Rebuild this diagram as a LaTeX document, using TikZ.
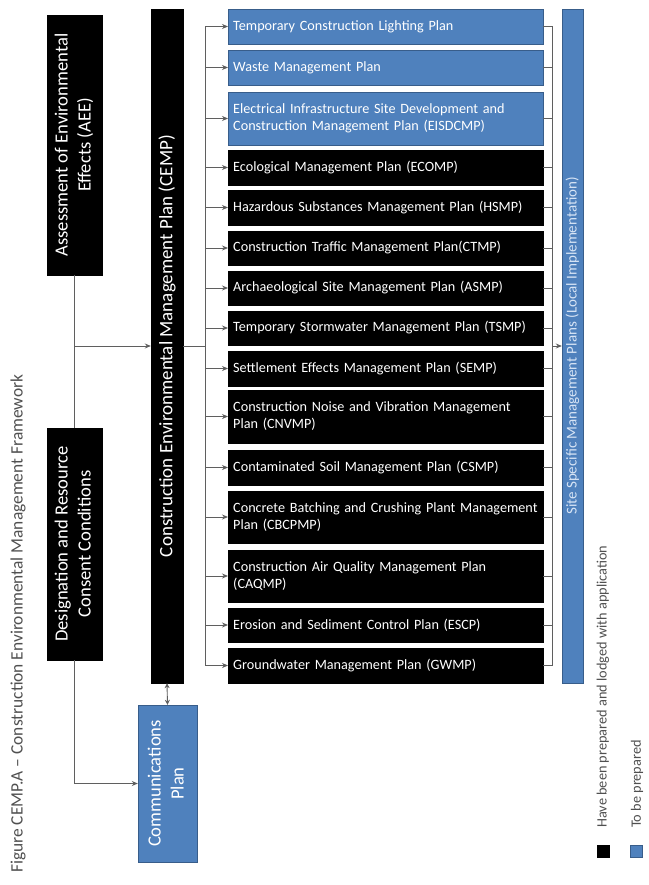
\documentclass[tikz,border=0pt]{standalone}
\usepackage{fontspec}
\setmainfont{Carlito}
\usepackage{graphicx}
\usetikzlibrary{arrows.meta}
\definecolor{planblue}{RGB}{79,129,189}
\definecolor{blueedge}{RGB}{56,93,138}
\definecolor{linegray}{RGB}{95,95,95}
\definecolor{titlegray}{RGB}{80,80,80}
\definecolor{sitetext}{RGB}{215,228,245}
\newcommand{\planfont}{\fontsize{14.2}{17}\selectfont}
\newcommand{\bigfont}{\fontsize{18.6}{23}\selectfont}
\begin{document}
\begin{tikzpicture}[x=1pt,y=-1pt,
  blk/.style={fill=black,draw=black,text=white,inner sep=0pt},
  blu/.style={fill=planblue,draw=blueedge,text=white,inner sep=0pt},
  plan/.style={minimum width=315pt,text width=305pt,align=left,anchor=west,inner xsep=5pt,inner ysep=0pt,font=\planfont},
  tall/.style={inner sep=0pt,font=\bigfont},
  conn/.style={draw=linegray,line width=0.9pt},
  arr/.style={conn,-{Stealth[length=6pt,width=5pt]}},
  darr/.style={conn,{Stealth[length=5pt,width=5pt]}-{Stealth[length=5pt,width=5pt]}},
  legtext/.style={inner sep=0pt,text=titlegray,font=\fontsize{14.3}{17}\selectfont},
]
\useasboundingbox (0,0) rectangle (648,885);
\fill[white] (0,0) rectangle (648,885);

% title
\node[legtext,anchor=south,font=\fontsize{17.4}{20}\selectfont] (title) at (18,873)
  {\rotatebox{90}{Figure CEMP.A -- Construction Environmental Management Framework}};

% left column
\node[blk,tall,minimum width=55pt,minimum height=260pt] (aee) at (74.5,145)
  {\rotatebox{90}{\begin{tabular}{@{}c@{}}Assessment of Environmental\\Effects (AEE)\end{tabular}}};
\node[blk,tall,minimum width=55pt,minimum height=232pt] (des) at (74.5,544)
  {\rotatebox{90}{\begin{tabular}{@{}c@{}}Designation and Resource\\Consent Conditions\end{tabular}}};

% CEMP
\node[blk,tall,font=\fontsize{19}{23}\selectfont,minimum width=32pt,minimum height=674pt] (cemp) at (167,346)
  {\rotatebox{90}{Construction Environmental Management Plan (CEMP)}};

% communications
\node[blu,tall,minimum width=59pt,minimum height=157pt] (comms) at (167.5,783.5)
  {\rotatebox{90}{\begin{tabular}{@{}c@{}}Communications\\Plan\end{tabular}}};

% plans
\node[blu,plan,minimum height=35pt] (p1) at (228,26.5) {Temporary Construction Lighting Plan};
\node[blu,plan,minimum height=35pt] (p2) at (228,67.5) {Waste Management Plan};
\node[blu,plan,minimum height=53pt] (p3) at (228,118.5) {Electrical Infrastructure Site Development and\\Construction Management Plan (EISDCMP)};
\node[blk,plan,minimum height=35pt] (p4) at (228,167.5) {Ecological Management Plan (ECOMP)};
\node[blk,plan,minimum height=35pt] (p5) at (228,207.5) {Hazardous Substances Management Plan (HSMP)};
\node[blk,plan,minimum height=34pt] (p6) at (228,248) {Construction Traffic Management Plan(CTMP)};
\node[blk,plan,minimum height=34pt] (p7) at (228,288) {Archaeological Site Management Plan (ASMP)};
\node[blk,plan,minimum height=34pt] (p8) at (228,328) {Temporary Stormwater Management Plan (TSMP)};
\node[blk,plan,minimum height=35pt] (p9) at (228,368.5) {Settlement Effects Management Plan (SEMP)};
\node[blk,plan,minimum height=53pt] (p10) at (228,416.5) {Construction Noise and Vibration Management\\Plan (CNVMP)};
\node[blk,plan,minimum height=35pt] (p11) at (228,467.5) {Contaminated Soil Management Plan (CSMP)};
\node[blk,plan,minimum height=52pt] (p12) at (228,517) {Concrete Batching and Crushing Plant Management\\Plan (CBCPMP)};
\node[blk,plan,minimum height=52pt] (p13) at (228,576) {Construction Air Quality Management Plan\\(CAQMP)};
\node[blk,plan,minimum height=34pt] (p14) at (228,625) {Erosion and Sediment Control Plan (ESCP)};
\node[blk,plan,minimum height=35pt] (p15) at (228,665.5) {Groundwater Management Plan (GWMP)};

% site specific
\node[blu,minimum width=21pt,minimum height=674pt,text=sitetext,font=\fontsize{15}{17}\selectfont] (site) at (572.5,346)
  {\rotatebox{90}{Site Specific Management Plans (Local Implementation)}};

% legend
\node[fill=black,draw=black,minimum size=12pt,inner sep=0pt] (lgk) at (603.5,851) {};
\node[fill=planblue,draw=blueedge,line width=1.3pt,minimum size=12pt,inner sep=0pt] (lgb) at (636.5,851.5) {};
\node[legtext,anchor=south] (lgkt) at (603,828) {\rotatebox{90}{Have been prepared and lodged with application}};
\node[legtext,anchor=south] (lgbt) at (637,828) {\rotatebox{90}{To be prepared}};

% bus coordinates
\coordinate (busT) at (205,26.5);
\coordinate (busB) at (205,665.5);
\coordinate (rbusT) at (552,26.5);
\coordinate (rbusB) at (552,665.5);

% connectors left column
\draw[conn] (aee.south) -- (des.north);
\draw[arr] (aee.south |- cemp.west) -- (cemp.west);
\draw[arr] (des.south) |- (comms.west);
\draw[darr] (cemp.south) -- (comms.north);

% bus
\draw[conn] (cemp.east) -- (busT |- cemp.east);
\draw[conn] (busT) -- (busB);
\draw[conn] (rbusT) -- (rbusB);
\foreach \i in {1,...,15}{
  \draw[arr] (busT |- p\i.west) -- (p\i.west);
  \draw[conn] (p\i.east) -- (rbusT |- p\i.east);
}
\draw[arr] (rbusT |- site.west) -- (site.west);
\end{tikzpicture}
\end{document}
